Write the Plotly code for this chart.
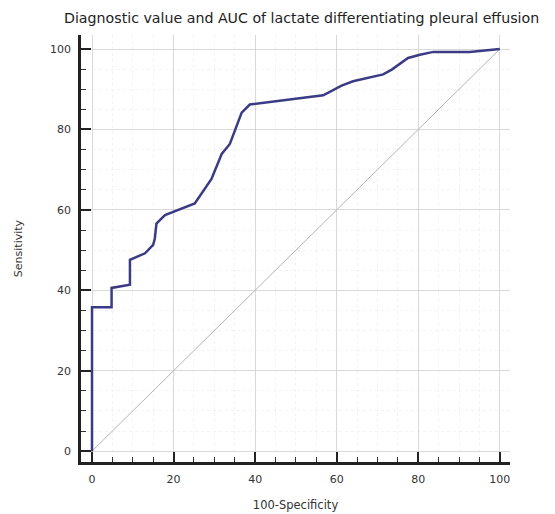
import plotly.graph_objects as go

# ROC curve points (100-Specificity, Sensitivity)
fpr = [0, 0, 4.8, 4.8, 9.3, 9.3, 13.0, 15.0, 15.4, 15.8, 17.9, 19.9, 25.2, 29.3,
       31.8, 33.8, 36.7, 38.7, 45.3, 56.7, 61.2, 64.0, 71.4, 73.5, 77.5, 80.4,
       83.7, 92.6, 100]
tpr = [0, 35.8, 35.8, 40.6, 41.4, 47.6, 49.2, 51.3, 52.9, 56.6, 58.7, 59.5, 61.6,
       67.7, 73.9, 76.4, 84.2, 86.2, 87.1, 88.5, 90.9, 92.0, 93.7, 94.9, 97.8,
       98.6, 99.3, 99.3, 100]
diag_x = [0, 100]
diag_y = [0, 100]
tick_vals = [0, 20, 40, 60, 80, 100]

FONT = "DejaVu Sans, Liberation Sans, Arial"

fig = go.Figure()
fig.add_trace(go.Scatter(x=diag_x, y=diag_y, mode="lines",
                         line=dict(color="#b4b4b4", width=1), hoverinfo="skip"))
fig.add_trace(go.Scatter(x=fpr, y=tpr, mode="lines",
                         line=dict(color="#3b3b85", width=2.5)))

axis_common = dict(
    tickvals=tick_vals,
    ticks="inside", ticklen=10, tickwidth=2, tickcolor="#222",
    showline=True, linecolor="#222", linewidth=2.5,
    showgrid=True, gridcolor="#d9d9d9", gridwidth=1,
    zeroline=False, automargin=False,
    ticklabelstandoff=5,
    tickfont=dict(family=FONT, size=11, color="#333"),
    minor=dict(dtick=5, ticks="inside", ticklen=5, tickwidth=1, tickcolor="#333",
               showgrid=True, gridcolor="#f3f3f3", griddash="dot"),
)

fig.update_xaxes(range=[-2.7, 102.5], **axis_common,
                 title=dict(text="100-Specificity", standoff=16,
                            font=dict(family=FONT, size=11.5, color="#333")))
fig.update_yaxes(range=[-2.7, 103.5], **axis_common,
                 title=dict(text="Sensitivity", standoff=26,
                            font=dict(family=FONT, size=11, color="#333")))

fig.add_annotation(text="Diagnostic value and AUC of lactate differentiating pleural effusion",
                   xref="paper", yref="paper", x=-0.044, y=1.0, yshift=17,
                   xanchor="left", yanchor="middle", showarrow=False,
                   font=dict(family=FONT, size=14.2, color="#222"))

# page body has an 8px default margin, so the figure is sized to fit the window
fig.update_layout(
    width=547, height=506,
    margin=dict(l=73, r=45, t=27, b=52),
    plot_bgcolor="white", paper_bgcolor="white",
    showlegend=False,
)

fig.write_html("out.html")
